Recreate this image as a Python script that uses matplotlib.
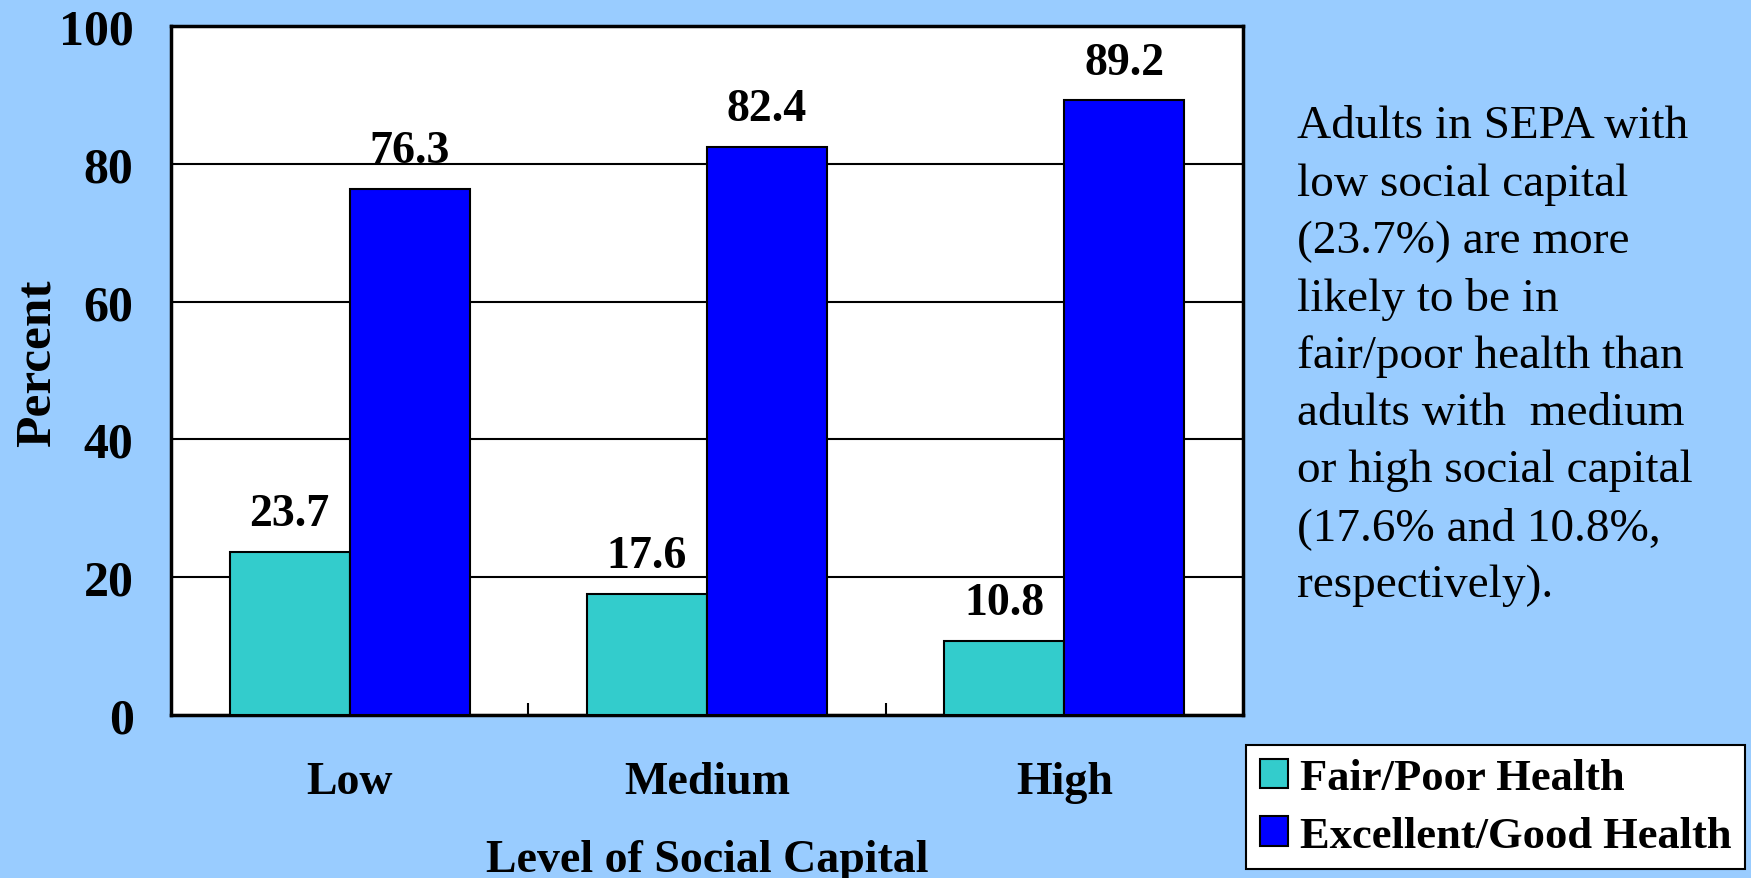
import matplotlib.pyplot as plt
import numpy as np
from matplotlib.patches import Patch


levels = ['Low', 'Medium', 'High']
fair_poor = [23.7, 17.6, 10.8]
excellent_good = [76.3, 82.4, 89.2]
series_names = ['Fair/Poor Health', 'Excellent/Good Health']
y_ticks = [0, 20, 40, 60, 80, 100]
note = ('Adults in SEPA with\n'
        'low social capital\n'
        '(23.7%) are more\n'
        'likely to be in\n'
        'fair/poor health than\n'
        'adults with  medium\n'
        'or high social capital\n'
        '(17.6% and 10.8%,\n'
        'respectively).')

bg = '#99CCFF'
teal = '#33CCCC'
blue = '#0000FF'
serif = 'Liberation Serif'

plt.rcParams['font.family'] = serif

fig = plt.figure(figsize=(17.51, 8.79), dpi=100, facecolor=bg)
ax = fig.add_axes([171/1751, 1 - 716/879, (1243 - 171)/1751, (716 - 27)/879])
ax.set_facecolor('white')

x = np.arange(len(levels))
w = 0.336
ax.bar(x - w/2, fair_poor, w, color=teal, edgecolor='black', linewidth=1.5, zorder=3)
ax.bar(x + w/2, excellent_good, w, color=blue, edgecolor='black', linewidth=1.5, zorder=3)

# value labels above the bars
for xi, v in zip(x - w/2, fair_poor):
    ax.text(xi, v + 3.9, '{:.1f}'.format(v), ha='center', va='baseline',
            fontsize=33, fontweight='bold', zorder=4)
for xi, v in zip(x + w/2, excellent_good):
    ax.text(xi, v + 3.9, '{:.1f}'.format(v), ha='center', va='baseline',
            fontsize=33, fontweight='bold', zorder=4)

ax.set_xlim(-0.5, len(levels) - 0.5)
ax.set_ylim(0, 100)
ax.set_yticks(y_ticks)
ax.set_yticklabels([str(t) for t in y_ticks], fontsize=36, fontweight='bold')
ax.tick_params(axis='y', length=0, pad=27)
ax.yaxis.grid(True, color='black', linewidth=1.5)
ax.set_axisbelow(True)

ax.set_xticks(x)
ax.set_xticklabels(levels, fontsize=33, fontweight='bold')
ax.tick_params(axis='x', which='major', length=0, pad=33)
ax.set_xticks(np.arange(0.5, len(levels) - 1), minor=True)
ax.tick_params(axis='x', which='minor', direction='in', length=9, width=1.5, color='black')

for s in ax.spines.values():
    s.set_linewidth(2.5)
    s.set_color('black')

ax.set_xlabel('Level of Social Capital', fontsize=33, fontweight='bold')
ax.xaxis.set_label_coords(0.5, -0.18)
ax.set_ylabel('Percent', fontsize=37, fontweight='bold')
ax.yaxis.set_label_coords(-0.103, 0.512)

fig.text(1297/1751, 1 - 106/879, note, fontsize=34, va='top', ha='left',
         linespacing=1.45)

handles = [Patch(facecolor=teal, edgecolor='black', linewidth=1.5),
           Patch(facecolor=blue, edgecolor='black', linewidth=1.5)]
leg = fig.legend(handles, series_names, loc='lower right',
                 bbox_to_anchor=(1745/1751, 1 - 870/879),
                 prop={'family': serif, 'weight': 'bold', 'size': 32},
                 fancybox=False, framealpha=1, borderpad=0.3,
                 handlelength=0.63, handleheight=0.63, handletextpad=0.28,
                 labelspacing=0.4, borderaxespad=0)
leg.get_frame().set_edgecolor('black')
leg.get_frame().set_linewidth(1.5)

fig.savefig('out.png', dpi=100, facecolor=bg)
